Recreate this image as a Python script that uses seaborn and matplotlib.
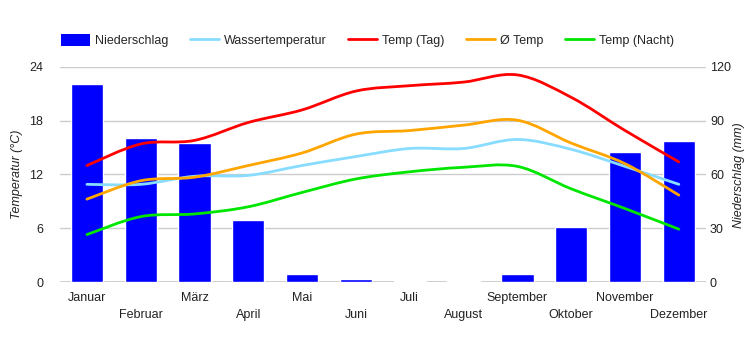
import numpy as np
import pandas as pd
import seaborn as sns
import matplotlib.pyplot as plt
from matplotlib.path import Path
from matplotlib.patches import PathPatch, Patch
from matplotlib.lines import Line2D

months = ["Januar", "Februar", "März", "April", "Mai", "Juni", "Juli",
          "August", "September", "Oktober", "November", "Dezember"]
niederschlag = [110.3, 80.2, 77.4, 34.4, 4.3, 2.0, 0.6, 0.6, 4.3, 30.7, 72.6, 78.7]
wasser = [10.9, 10.9, 11.8, 11.9, 13.0, 14.0, 14.9, 14.9, 15.9, 14.8, 12.9, 10.9]
temp_tag = [13.0, 15.4, 15.8, 17.8, 19.2, 21.3, 21.9, 22.3, 23.1, 20.6, 16.9, 13.4]
temp_avg = [9.25, 11.3, 11.7, 13.0, 14.4, 16.5, 16.9, 17.5, 18.05, 15.5, 13.2, 9.7]
temp_nacht = [5.3, 7.3, 7.6, 8.4, 10.0, 11.5, 12.3, 12.8, 12.9, 10.4, 8.2, 5.9]

series = [("Wassertemperatur", wasser, "#87dcff"),
          ("Temp (Tag)", temp_tag, "#ff0000"),
          ("Ø Temp", temp_avg, "#ffa500"),
          ("Temp (Nacht)", temp_nacht, "#00e600")]

sns.set_style("white")
plt.rcParams["font.family"] = ["Liberation Sans", "DejaVu Sans"]

df = pd.DataFrame({"Monat": months, "Niederschlag": niederschlag})

fig = plt.figure(figsize=(7.5, 3.5), dpi=100)
ax2 = fig.add_axes([0.08, 0.194, 0.861, 0.615])
ax = ax2.twinx()

# bars on the precipitation axis (drawn underneath)
sns.barplot(data=df, x="Monat", y="Niederschlag", ax=ax2, color="#0000ff",
            saturation=1, width=0.6, zorder=2)
ax2.set_ylim(0, 120)
ax2.set_yticks(np.arange(0, 121, 30))
ax2.yaxis.tick_right()
ax2.grid(axis="y", color="#cccccc", linewidth=1, zorder=0)
ax2.set_axisbelow(True)
ax2.set_xlim(-0.5, 11.5)


def smooth_path(xs, ys):
    pts = np.column_stack([xs, ys])
    verts = [pts[0]]
    codes = [Path.MOVETO]
    n = len(pts)
    for i in range(n - 1):
        p0 = pts[i - 1] if i > 0 else pts[i]
        p1 = pts[i]
        p2 = pts[i + 1]
        p3 = pts[i + 2] if i + 2 < n else pts[i + 1]
        c1 = p1 + (p2 - p0) / 6
        c2 = p2 - (p3 - p1) / 6
        verts += [c1, c2, p2]
        codes += [Path.CURVE4] * 3
    return Path(verts, codes)


# temperature lines on the left axis (drawn on top)
ax.set_zorder(ax2.get_zorder() + 1)
ax.patch.set_visible(False)
x = np.arange(len(months))
for name, vals, col in series:
    ax.add_patch(PathPatch(smooth_path(x, vals), facecolor="none",
                           edgecolor=col, linewidth=2, capstyle="round"))
ax.set_ylim(0, 24)
ax.set_yticks(np.arange(0, 25, 6))
ax.yaxis.tick_left()
ax.set_xlim(-0.5, 11.5)

for a in (ax, ax2):
    for s in a.spines.values():
        s.set_visible(False)
    a.tick_params(axis="both", length=0, labelsize=9, colors="#222222")

ax2.axhline(0, color="#333333", linewidth=1, zorder=1)
ax.tick_params(axis="y", pad=12)
ax2.tick_params(axis="y", pad=3)

ax2.set_xticks(x)
ax2.set_xticklabels([m if i % 2 == 0 else "\n" + m for i, m in enumerate(months)],
                    linespacing=1.55)
ax2.tick_params(axis="x", pad=7)
ax2.set_xlabel("")
ax2.set_ylabel("")
ax.set_ylabel("")

fig.text(17.5 / 750, 1 - 174 / 350, "Temperatur (°C)", rotation=90,
         fontstyle="italic", fontsize=9, ha="center", va="center", color="#222222")
fig.text(739 / 750, 1 - 175 / 350, "Niederschlag (mm)", rotation=90,
         fontstyle="italic", fontsize=9, ha="center", va="center", color="#222222")

handles = [Patch(facecolor="#0000ff", edgecolor="none", label="Niederschlag")]
handles += [Line2D([0], [0], color=c, linewidth=2, label=n) for n, _, c in series]
fig.legend(handles=handles, loc="center left", bbox_to_anchor=(0.066, 0.885),
           ncol=5, frameon=False, fontsize=9, handlelength=2.3,
           handleheight=1.1, handletextpad=0.4, columnspacing=1.75)

fig.savefig("out.png", dpi=100)
